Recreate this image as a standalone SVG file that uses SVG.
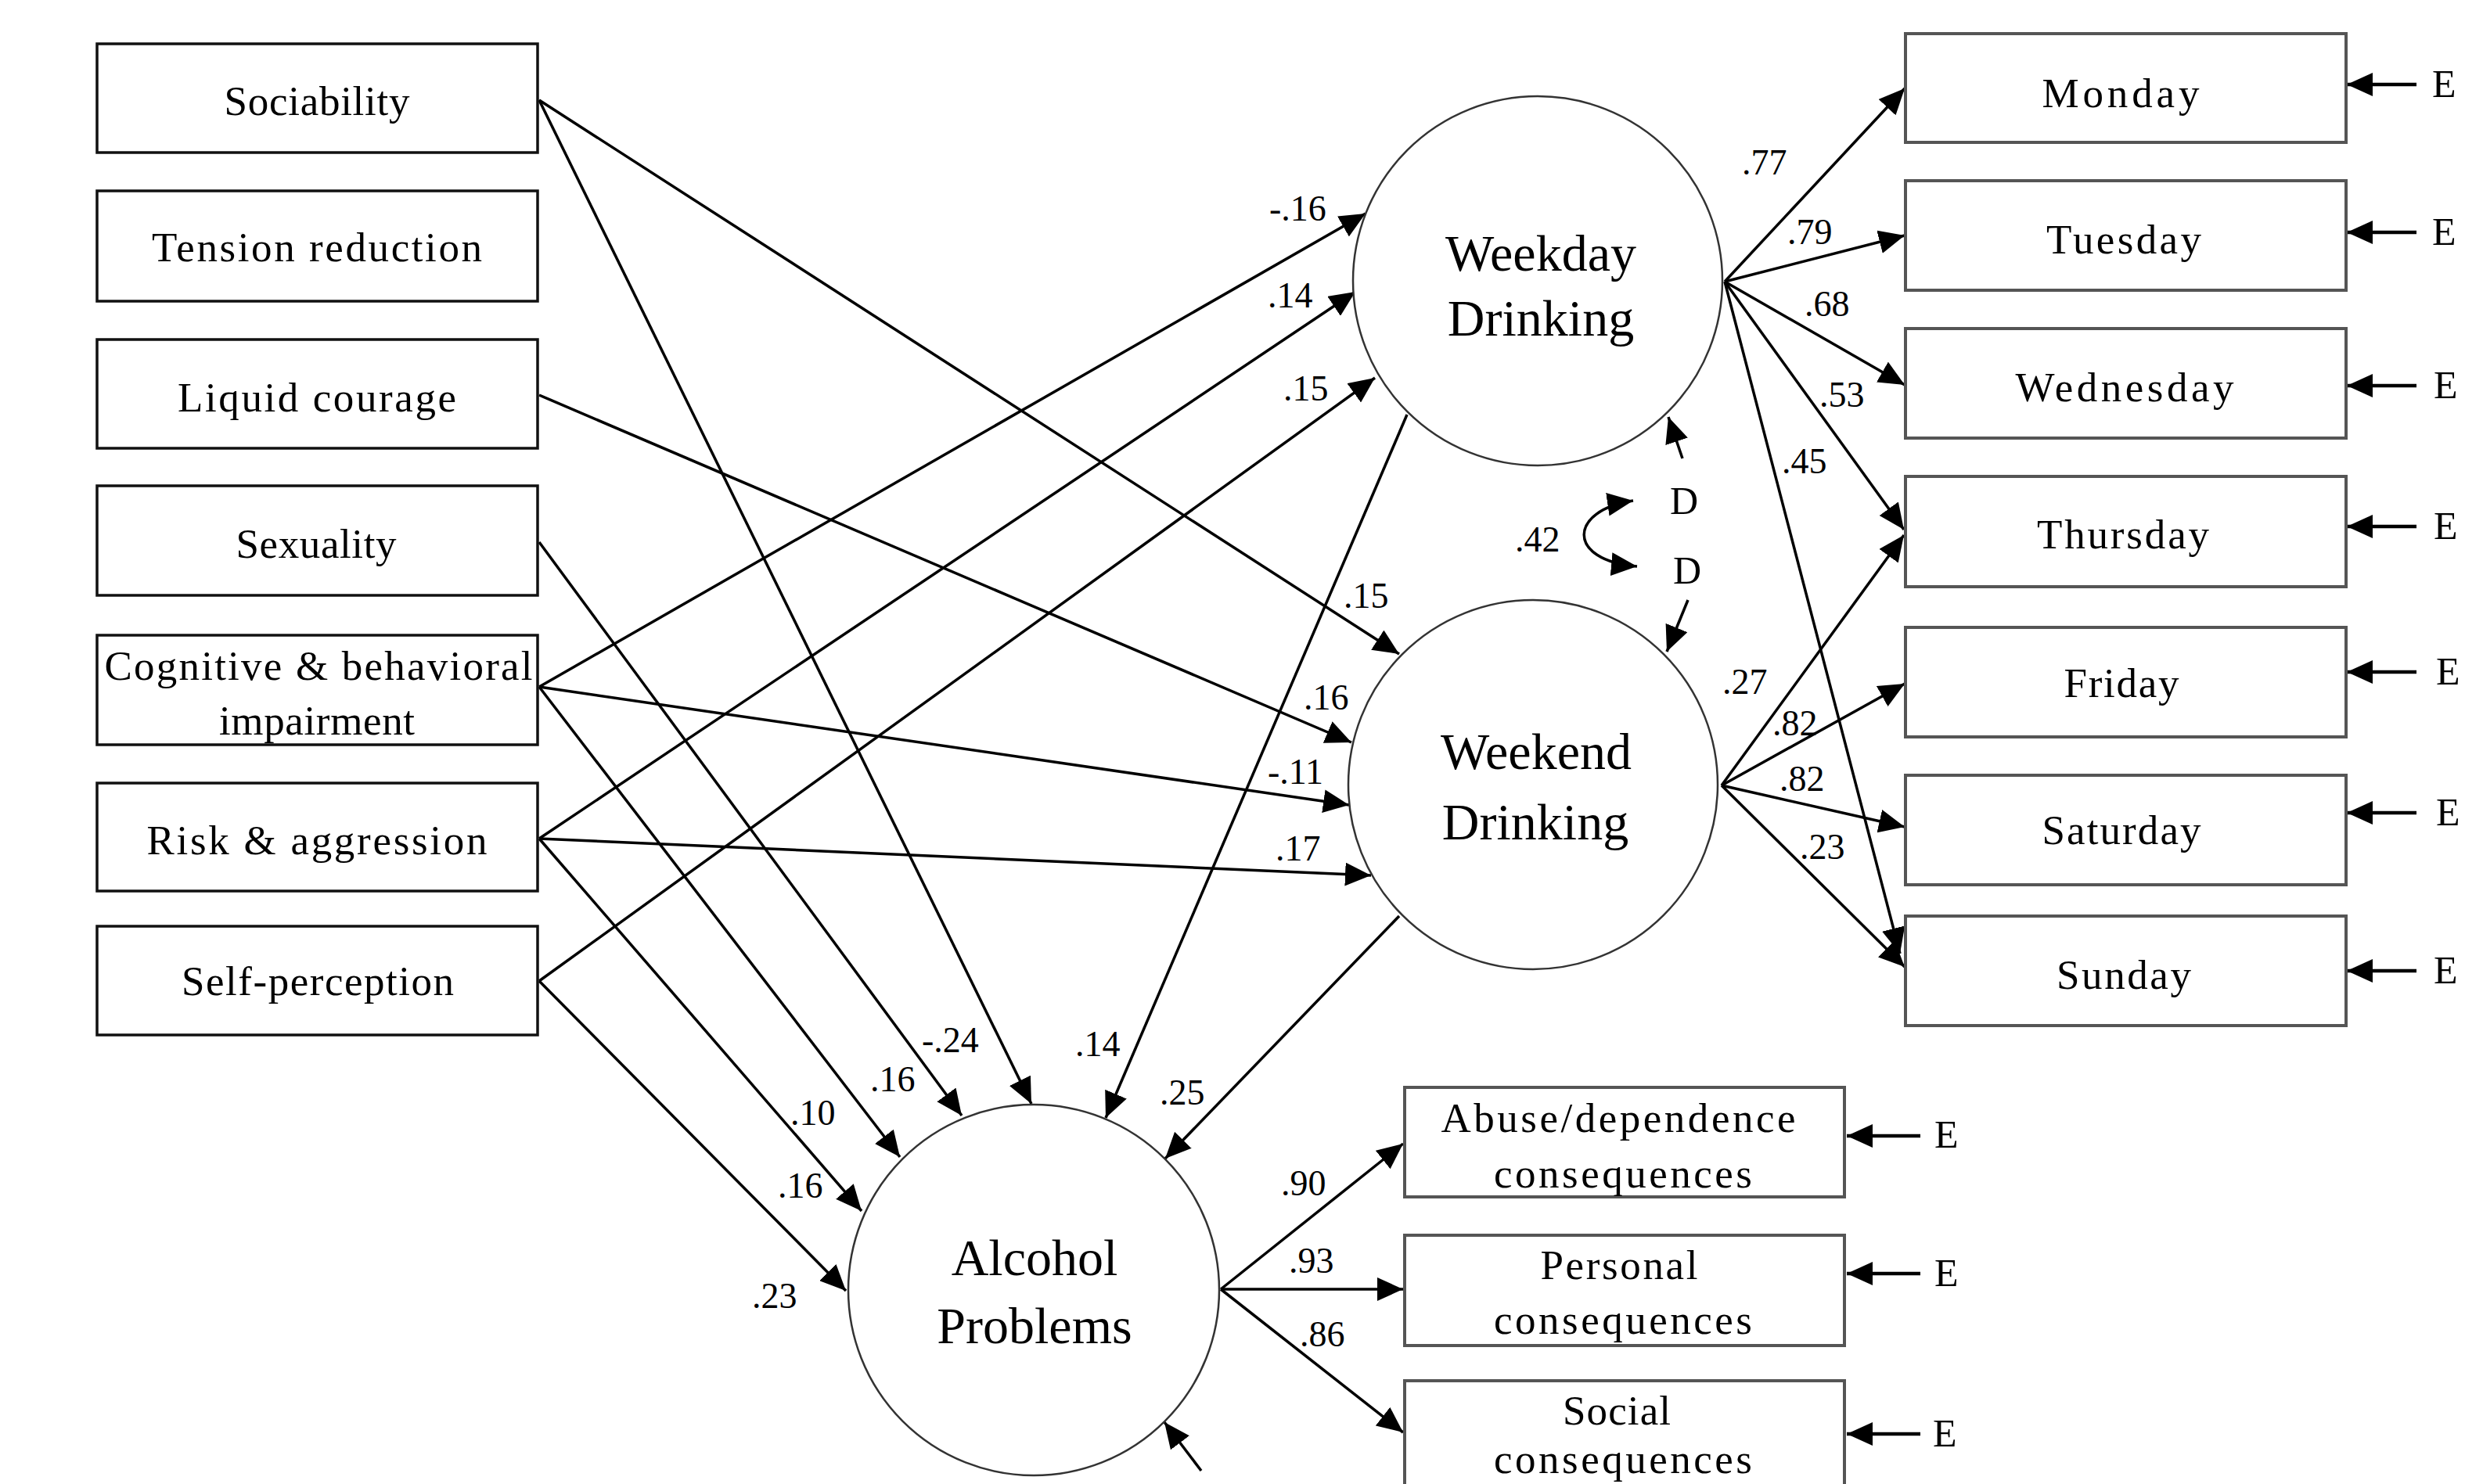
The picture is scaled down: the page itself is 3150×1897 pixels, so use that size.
<svg xmlns="http://www.w3.org/2000/svg" width="3150" height="1897" viewBox="0 0 3150 1897">
<style>
text{font-family:"Liberation Serif","Times New Roman",serif;fill:#000}
.box{fill:#fff;stroke:#111;stroke-width:3.5}
.rbox{fill:#fff;stroke:#555;stroke-width:4}
.circ{fill:#fff;stroke:#333;stroke-width:2.5}
.bl{font-size:53px;text-anchor:middle}
.cl{font-size:66px;text-anchor:middle}
.pl{font-size:46px}
.el{font-size:50px}
.c{fill:none;stroke:#000;stroke-width:3.5;marker-end:url(#ah)}
.e{fill:none;stroke:#000;stroke-width:4.5;marker-end:url(#ah)}
</style>
<defs>
<marker id="ah" markerUnits="userSpaceOnUse" markerWidth="33" markerHeight="30" refX="33" refY="15" orient="auto-start-reverse"><path d="M0,0 L33,15 L0,30 z" fill="#000"/></marker>
</defs>
<rect width="3150" height="1897" fill="#fff"/>

<g id="connectors">
<line class="c" x1="689" y1="128" x2="1788" y2="836"/>
<line class="c" x1="689" y1="128" x2="1318" y2="1411"/>
<line class="c" x1="689" y1="505" x2="1727" y2="949"/>
<line class="c" x1="689" y1="693" x2="1229" y2="1426"/>
<line class="c" x1="689" y1="878" x2="1745" y2="273"/>
<line class="c" x1="689" y1="878" x2="1724" y2="1029"/>
<line class="c" x1="689" y1="878" x2="1150" y2="1479"/>
<line class="c" x1="689" y1="1072" x2="1732" y2="373"/>
<line class="c" x1="689" y1="1072" x2="1752" y2="1119"/>
<line class="c" x1="689" y1="1072" x2="1101" y2="1548"/>
<line class="c" x1="689" y1="1254" x2="1757" y2="483"/>
<line class="c" x1="689" y1="1254" x2="1081" y2="1650"/>
<line class="c" x1="1798" y1="530" x2="1413" y2="1429"/>
<line class="c" x1="1788" y1="1171" x2="1489" y2="1481"/>
<line class="c" x1="2204" y1="360" x2="2434" y2="113"/>
<line class="c" x1="2204" y1="360" x2="2434" y2="301"/>
<line class="c" x1="2204" y1="360" x2="2434" y2="492"/>
<line class="c" x1="2204" y1="360" x2="2433" y2="677"/>
<line class="c" x1="2204" y1="360" x2="2428" y2="1219"/>
<line class="c" x1="2200" y1="1004" x2="2433" y2="684"/>
<line class="c" x1="2200" y1="1004" x2="2434" y2="874"/>
<line class="c" x1="2200" y1="1004" x2="2434" y2="1057"/>
<line class="c" x1="2200" y1="1004" x2="2434" y2="1236"/>
<line class="c" x1="1560" y1="1648" x2="1793" y2="1462"/>
<line class="c" x1="1560" y1="1648" x2="1793" y2="1648"/>
<line class="c" x1="1560" y1="1648" x2="1793" y2="1831"/>
<line class="c" x1="1535" y1="1880" x2="1488" y2="1818"/>
<line class="c" x1="2150" y1="586" x2="2132" y2="533"/>
<line class="c" x1="2157" y1="767" x2="2130" y2="833"/>
<path class="c" d="M2087,640 C2005,652 2000,716 2092,724" style="marker-start:url(#ah)"/>
<line class="e" x1="3088" y1="108" x2="2999" y2="108"/>
<line class="e" x1="3088" y1="297" x2="2999" y2="297"/>
<line class="e" x1="3088" y1="493" x2="2999" y2="493"/>
<line class="e" x1="3088" y1="673" x2="2999" y2="673"/>
<line class="e" x1="3088" y1="859" x2="2999" y2="859"/>
<line class="e" x1="3088" y1="1039" x2="2999" y2="1039"/>
<line class="e" x1="3088" y1="1241" x2="2999" y2="1241"/>
<line class="e" x1="2454" y1="1452" x2="2360" y2="1452"/>
<line class="e" x1="2454" y1="1628" x2="2360" y2="1628"/>
<line class="e" x1="2454" y1="1833" x2="2360" y2="1833"/>
</g>

<g id="labels">
<text class="pl" x="1717" y="777">.15</text>
<text class="pl" x="1178" y="1345">-.24</text>
<text class="pl" x="1666" y="907">.16</text>
<text class="pl" x="1112" y="1395">.16</text>
<text class="pl" x="1622" y="282">-.16</text>
<text class="pl" x="1620" y="1002">-.11</text>
<text class="pl" x="1010" y="1438">.10</text>
<text class="pl" x="1620" y="393">.14</text>
<text class="pl" x="1630" y="1100">.17</text>
<text class="pl" x="994" y="1531">.16</text>
<text class="pl" x="1640" y="512">.15</text>
<text class="pl" x="961" y="1672">.23</text>
<text class="pl" x="1374" y="1350">.14</text>
<text class="pl" x="1482" y="1412">.25</text>
<text class="pl" x="2226" y="223">.77</text>
<text class="pl" x="2284" y="312">.79</text>
<text class="pl" x="2306" y="404">.68</text>
<text class="pl" x="2325" y="520">.53</text>
<text class="pl" x="2277" y="605">.45</text>
<text class="pl" x="2201" y="887">.27</text>
<text class="pl" x="2265" y="940">.82</text>
<text class="pl" x="2274" y="1011">.82</text>
<text class="pl" x="2300" y="1098">.23</text>
<text class="pl" x="1637" y="1528">.90</text>
<text class="pl" x="1647" y="1627">.93</text>
<text class="pl" x="1661" y="1721">.86</text>
<text class="pl" x="1936" y="705">.42</text>
<text class="el" x="2134" y="657">D</text>
<text class="el" x="2138" y="746">D</text>
<text class="el" x="3108" y="124">E</text>
<text class="el" x="3108" y="313">E</text>
<text class="el" x="3110" y="509">E</text>
<text class="el" x="3110" y="689">E</text>
<text class="el" x="3113" y="875">E</text>
<text class="el" x="3113" y="1055">E</text>
<text class="el" x="3110" y="1257">E</text>
<text class="el" x="2472" y="1467">E</text>
<text class="el" x="2472" y="1644">E</text>
<text class="el" x="2470" y="1849">E</text>
</g>

<g id="sociability"><rect class="box" x="124" y="56" width="563" height="139"/><text class="bl" x="405" y="147" textLength="237" lengthAdjust="spacing">Sociability</text></g>
<g id="tension-reduction"><rect class="box" x="124" y="244" width="563" height="141"/><text class="bl" x="405" y="334" textLength="422" lengthAdjust="spacing">Tension reduction</text></g>
<g id="liquid-courage"><rect class="box" x="124" y="434" width="563" height="139"/><text class="bl" x="405" y="526" textLength="356" lengthAdjust="spacing">Liquid  courage</text></g>
<g id="sexuality"><rect class="box" x="124" y="621" width="563" height="140"/><text class="bl" x="404" y="713" textLength="205" lengthAdjust="spacing">Sexuality</text></g>
<g id="cognitive"><rect class="box" x="124" y="812" width="563" height="140"/><text class="bl" x="407" y="869" textLength="547" lengthAdjust="spacing">Cognitive &amp; behavioral</text><text class="bl" x="405" y="939" textLength="250" lengthAdjust="spacing">impairment</text></g>
<g id="risk-aggression"><rect class="box" x="124" y="1001" width="563" height="138"/><text class="bl" x="405" y="1092" textLength="435" lengthAdjust="spacing">Risk &amp; aggression</text></g>
<g id="self-perception"><rect class="box" x="124" y="1184" width="563" height="139"/><text class="bl" x="406" y="1272" textLength="348" lengthAdjust="spacing">Self-perception</text></g>

<g id="weekday-drinking"><circle class="circ" cx="1965" cy="359" r="236"/><text class="cl" x="1969" y="346">Weekday</text><text class="cl" x="1969" y="429">Drinking</text></g>
<g id="weekend-drinking"><circle class="circ" cx="1959" cy="1003" r="236"/><text class="cl" x="1963" y="983">Weekend</text><text class="cl" x="1962" y="1073">Drinking</text></g>
<g id="alcohol-problems"><circle class="circ" cx="1321" cy="1649" r="237"/><text class="cl" x="1322" y="1630">Alcohol</text><text class="cl" x="1322" y="1717">Problems</text></g>

<g id="monday"><rect class="rbox" x="2435" y="43" width="563" height="139"/><text class="bl" x="2710" y="137" textLength="201" lengthAdjust="spacing">Monday</text></g>
<g id="tuesday"><rect class="rbox" x="2435" y="231" width="563" height="140"/><text class="bl" x="2714" y="324" textLength="198" lengthAdjust="spacing">Tuesday</text></g>
<g id="wednesday"><rect class="rbox" x="2435" y="420" width="563" height="140"/><text class="bl" x="2715" y="513" textLength="279" lengthAdjust="spacing">Wednesday</text></g>
<g id="thursday"><rect class="rbox" x="2435" y="609" width="563" height="141"/><text class="bl" x="2713" y="701" textLength="220" lengthAdjust="spacing">Thursday</text></g>
<g id="friday"><rect class="rbox" x="2435" y="802" width="563" height="140"/><text class="bl" x="2711" y="891" textLength="147" lengthAdjust="spacing">Friday</text></g>
<g id="saturday"><rect class="rbox" x="2435" y="991" width="563" height="140"/><text class="bl" x="2711" y="1079" textLength="203" lengthAdjust="spacing">Saturday</text></g>
<g id="sunday"><rect class="rbox" x="2435" y="1171" width="563" height="140"/><text class="bl" x="2714" y="1264" textLength="172" lengthAdjust="spacing">Sunday</text></g>

<g id="abuse-dependence"><rect class="rbox" x="1795" y="1390" width="562" height="140"/><text class="bl" x="2068" y="1447" textLength="453" lengthAdjust="spacing">Abuse/dependence</text><text class="bl" x="2074" y="1518" textLength="330" lengthAdjust="spacing">consequences</text></g>
<g id="personal"><rect class="rbox" x="1795" y="1579" width="562" height="141"/><text class="bl" x="2069" y="1635" textLength="201" lengthAdjust="spacing">Personal</text><text class="bl" x="2074" y="1705" textLength="330" lengthAdjust="spacing">consequences</text></g>
<g id="social"><rect class="rbox" x="1795" y="1765" width="562" height="142"/><text class="bl" x="2066" y="1821" textLength="138" lengthAdjust="spacing">Social</text><text class="bl" x="2074" y="1883" textLength="330" lengthAdjust="spacing">consequences</text></g>
</svg>
